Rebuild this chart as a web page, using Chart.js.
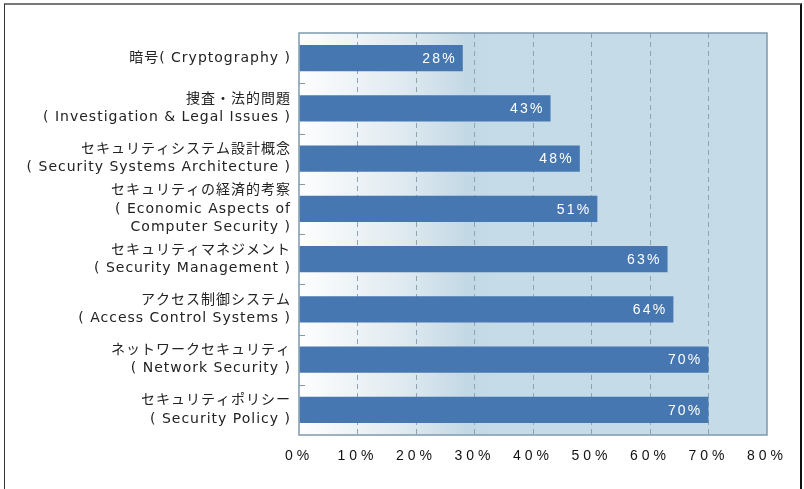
<!DOCTYPE html>
<html>
<head>
<meta charset="utf-8">
<script src="https://cdn.jsdelivr.net/npm/chart.js@4/dist/chart.umd.min.js"></script>
<style>
  html, body { margin: 0; padding: 0; background: #fff; }
  #wrap { position: relative; width: 804px; height: 489px; }
  #frame {
    position: absolute; left: 4px; top: 3px; width: 795px; height: 490px;
    border-top: 2px solid #777; border-left: 1px solid #333; border-right: 2px solid #111;
    pointer-events: none;
  }
  canvas { position: absolute; left: 0; top: 0; }
</style>
</head>
<body>
<div id="wrap">
  <canvas id="chart" width="804" height="489"></canvas>
  <div id="frame"></div>
</div>
<script>
  const categories = [
    ['暗号( Cryptography )'],
    ['捜査・法的問題', '( Investigation & Legal Issues )'],
    ['セキュリティシステム設計概念', '( Security Systems Architecture )'],
    ['セキュリティの経済的考察', '( Economic Aspects of', 'Computer Security )'],
    ['セキュリティマネジメント', '( Security Management )'],
    ['アクセス制御システム', '( Access Control Systems )'],
    ['ネットワークセキュリティ', '( Network Security )'],
    ['セキュリティポリシー', '( Security Policy )']
  ];
  const values = [28, 43, 48, 51, 63, 64, 70, 70];
  const xMin = 0, xMax = 80, xStep = 10;

  const FONT = '"Liberation Sans", "Noto Sans CJK JP", sans-serif';
  const LABEL_FONT = '"DejaVu Sans", "Noto Sans CJK JP", sans-serif';
  const BAR = '#4677b0';

  // gradient behind the plot area
  const plotBg = {
    id: 'plotBg',
    beforeDraw(chart) {
      const { ctx, chartArea: a } = chart;
      const g = ctx.createLinearGradient(a.left, 0, a.right, 0);
      g.addColorStop(0, '#ffffff');
      g.addColorStop(0.02, '#fbfcfd');
      g.addColorStop(0.22, '#e0eaf0');
      g.addColorStop(0.36, '#c3d8e5');
      g.addColorStop(0.42, '#c5dbe8');
      g.addColorStop(1, '#c5dbe8');
      ctx.save();
      ctx.fillStyle = g;
      ctx.fillRect(a.left, a.top, a.right - a.left, a.bottom - a.top);
      ctx.restore();
    }
  };

  // wider letter spacing for axis labels
  const spacing = {
    id: 'spacing',
    afterUpdate(chart) {
      const set = { x: '4px', y: '1px' };
      Object.keys(set).forEach(id => {
        const s = chart.scales[id];
        if (!s || s._spaced) return;
        const orig = s.drawLabels.bind(s);
        s.drawLabels = function (ca) {
          chart.ctx.save();
          chart.ctx.letterSpacing = set[id];
          orig(ca);
          chart.ctx.restore();
        };
        s._spaced = true;
      });
    }
  };

  // border, category ticks and value labels
  const overlay = {
    id: 'overlay',
    afterDatasetsDraw(chart) {
      const { ctx, chartArea: a, scales } = chart;
      ctx.save();
      ctx.strokeStyle = '#7f9aad';
      ctx.lineWidth = 1.5;
      ctx.strokeRect(a.left, a.top, a.right - a.left, a.bottom - a.top);

      ctx.lineWidth = 1;
      for (let i = 0; i < values.length - 1; i++) {
        const y = Math.round((scales.y.getPixelForValue(i) + scales.y.getPixelForValue(i + 1)) / 2) + 0.5;
        ctx.beginPath();
        ctx.moveTo(a.left, y);
        ctx.lineTo(a.left + 6, y);
        ctx.stroke();
      }

      ctx.fillStyle = '#ffffff';
      ctx.font = '14px ' + FONT;
      ctx.letterSpacing = '2.2px';
      ctx.textAlign = 'right';
      ctx.textBaseline = 'middle';
      chart.getDatasetMeta(0).data.forEach((bar, i) => {
        ctx.fillText(values[i] + '%', bar.x - 6, bar.y + 1);
      });
      ctx.restore();
    }
  };

  new Chart(document.getElementById('chart'), {
    type: 'bar',
    data: {
      labels: categories,
      datasets: [{
        data: values,
        backgroundColor: BAR,
        borderWidth: 0,
        barPercentage: 0.52,
        categoryPercentage: 1
      }]
    },
    plugins: [plotBg, spacing, overlay],
    options: {
      indexAxis: 'y',
      responsive: false,
      animation: false,
      layout: { padding: { left: 0, right: 37, top: 33, bottom: 0 } },
      plugins: { legend: { display: false }, tooltip: { enabled: false } },
      scales: {
        x: {
          min: xMin,
          max: xMax,
          ticks: {
            stepSize: xStep,
            padding: 13,
            color: '#111',
            font: { family: FONT, size: 14 },
            callback: v => v + '%'
          },
          grid: {
            drawTicks: false,
            color: ctx => (ctx.tick && (ctx.tick.value === xMin || ctx.tick.value === xMax)) ? 'rgba(0,0,0,0)' : '#8ea3b4',
            lineWidth: 1
          },
          border: { display: false, dash: [5, 4] },
          afterFit(s) { s.height = 54; }
        },
        y: {
          ticks: {
            autoSkip: false,
            padding: 8,
            color: '#222',
            font: { family: LABEL_FONT, size: 14, lineHeight: 1.3 }
          },
          grid: { display: false, drawTicks: false },
          border: { display: false },
          afterFit(s) { s.width = 299; }
        }
      }
    }
  });
</script>
</body>
</html>
